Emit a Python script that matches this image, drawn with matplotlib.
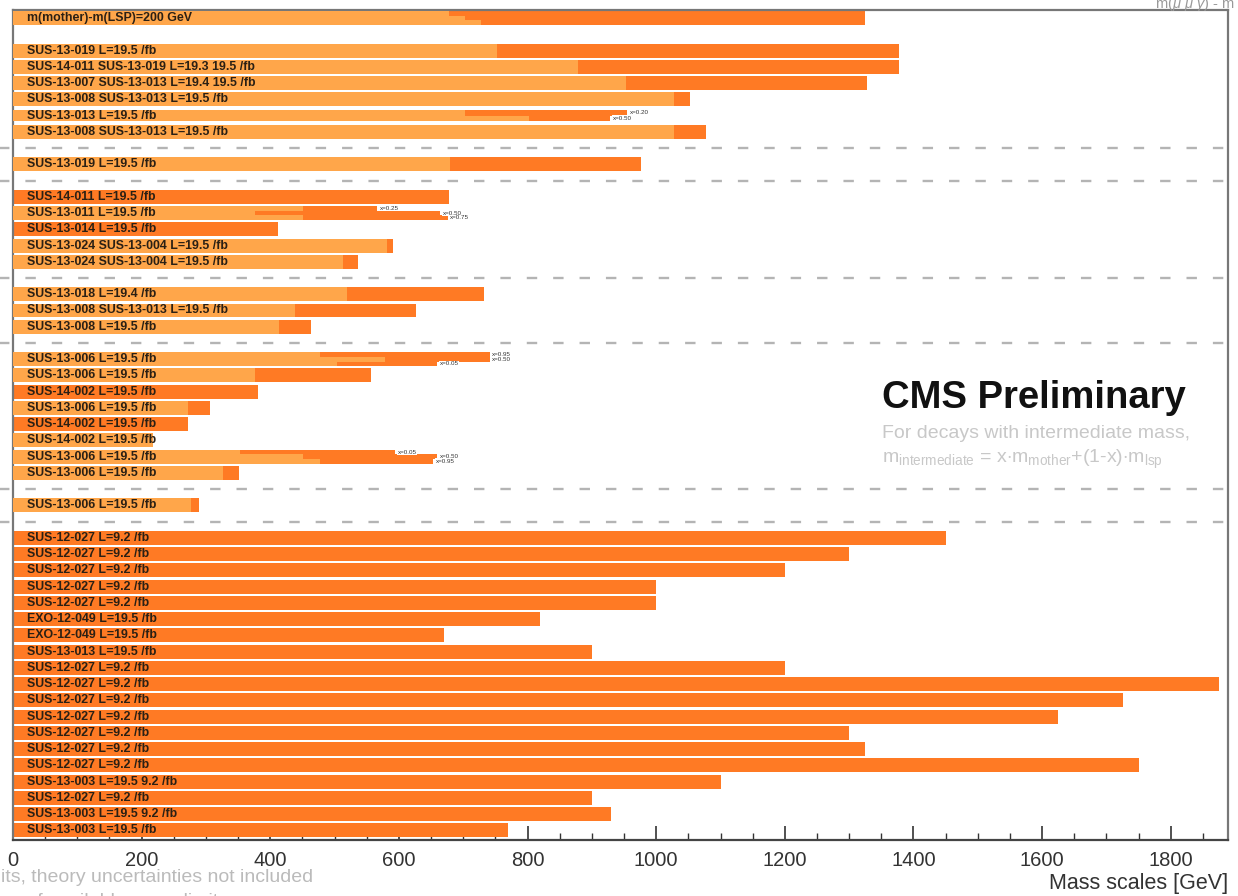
import matplotlib.pyplot as plt
from matplotlib.transforms import blended_transform_factory

plt.rcParams['font.family'] = ['Liberation Sans', 'DejaVu Sans']
plt.rcParams['mathtext.fontset'] = 'custom'
plt.rcParams['mathtext.rm'] = 'Liberation Sans'
plt.rcParams['mathtext.it'] = 'Liberation Sans:italic'
plt.rcParams['lines.scale_dashes'] = False

DARK = '#ff7a24'
LIGHT = '#ffa64a'
TXT = '#2b2014'

# simple rows: one limit for the mother (dark) and one for the LSP (light)
row_pos = [2, 3, 4, 5, 7, 9, 11, 13, 14, 15, 17, 18, 19, 22, 23, 24, 25, 26, 28, 30,
           32, 33, 34, 35, 36, 37, 38, 39, 40, 41, 42, 43, 44, 45, 46, 47, 48, 49, 50]
row_labels = [
    "SUS-13-019 L=19.5 /fb",
    "SUS-14-011 SUS-13-019 L=19.3 19.5 /fb",
    "SUS-13-007 SUS-13-013 L=19.4 19.5 /fb",
    "SUS-13-008 SUS-13-013 L=19.5 /fb",
    "SUS-13-008 SUS-13-013 L=19.5 /fb",
    "SUS-13-019 L=19.5 /fb",
    "SUS-14-011 L=19.5 /fb",
    "SUS-13-014 L=19.5 /fb",
    "SUS-13-024 SUS-13-004 L=19.5 /fb",
    "SUS-13-024 SUS-13-004 L=19.5 /fb",
    "SUS-13-018 L=19.4 /fb",
    "SUS-13-008 SUS-13-013 L=19.5 /fb",
    "SUS-13-008 L=19.5 /fb",
    "SUS-13-006 L=19.5 /fb",
    "SUS-14-002 L=19.5 /fb",
    "SUS-13-006 L=19.5 /fb",
    "SUS-14-002 L=19.5 /fb",
    "SUS-14-002 L=19.5 /fb",
    "SUS-13-006 L=19.5 /fb",
    "SUS-13-006 L=19.5 /fb",
    "SUS-12-027 L=9.2 /fb",
    "SUS-12-027 L=9.2 /fb",
    "SUS-12-027 L=9.2 /fb",
    "SUS-12-027 L=9.2 /fb",
    "SUS-12-027 L=9.2 /fb",
    "EXO-12-049 L=19.5 /fb",
    "EXO-12-049 L=19.5 /fb",
    "SUS-13-013 L=19.5 /fb",
    "SUS-12-027 L=9.2 /fb",
    "SUS-12-027 L=9.2 /fb",
    "SUS-12-027 L=9.2 /fb",
    "SUS-12-027 L=9.2 /fb",
    "SUS-12-027 L=9.2 /fb",
    "SUS-12-027 L=9.2 /fb",
    "SUS-12-027 L=9.2 /fb",
    "SUS-13-003 L=19.5 9.2 /fb",
    "SUS-12-027 L=9.2 /fb",
    "SUS-13-003 L=19.5 9.2 /fb",
    "SUS-13-003 L=19.5 /fb",
]
light_vals = [752, 878, 953, 1027, 1027, 679, 0, 0, 581, 513, 520, 438, 414, 376, 0, 272, 0, 218, 326, 277,
              0, 0, 0, 0, 0, 0, 0, 0, 0, 0, 0, 0, 0, 0, 0, 0, 0, 0, 0]
dark_vals = [1378, 1377, 1328, 1052, 1077, 976, 678, 412, 591, 536, 732, 626, 463, 556, 381, 306, 272, 0, 351, 289,
             1450, 1300, 1200, 1000, 1000, 820, 670, 900, 1200, 1875, 1725, 1625, 1300, 1325, 1750, 1100, 900, 930, 770]

# rows split by intermediate mass hypothesis
split_pos = [0, 6, 12, 21, 27]
split_labels = [
    "m(mother)-m(LSP)=200 GeV",
    "SUS-13-013 L=19.5 /fb",
    "SUS-13-011 L=19.5 /fb",
    "SUS-13-006 L=19.5 /fb",
    "SUS-13-006 L=19.5 /fb",
]
split_light = [(678, 702, 727), (702, 803), (451, 376, 451), (477, 578, 503), (353, 451, 477)]
split_dark = [(1324, 1324, 1324), (955, 928), (566, 664, 676), (741, 741, 659), (594, 659, 653)]
split_tags = [(None, None, None), ("x=0.20", "x=0.50"), ("x=0.25", "x=0.50", "x=0.75"),
              ("x=0.95", "x=0.50", "x=0.05"), ("x=0.05", "x=0.50", "x=0.95")]

dashed_pos = [8, 10, 16, 20, 29, 31]
xticks = [0, 200, 400, 600, 800, 1000, 1200, 1400, 1600, 1800]

fig = plt.figure(figsize=(12.38, 8.96), dpi=100)
ax = fig.add_axes([13 / 1238, 56 / 896, 1215 / 1238, 830 / 896])
ax.set_axisbelow(True)
tr = blended_transform_factory(ax.transAxes, ax.transData)

h = 0.86
ax.barh(row_pos, dark_vals, height=h, color=DARK, zorder=2)
ax.barh(row_pos, light_vals, height=h, color=LIGHT, zorder=3)
for y, lab in zip(row_pos, row_labels):
    ax.text(0.0115, y, lab, transform=tr, fontsize=8.9, fontweight='bold', color=TXT,
            va='center', ha='left', zorder=5)

for y, lab, lts, dks, tags in zip(split_pos, split_labels, split_light, split_dark, split_tags):
    n = len(lts)
    sh = h / n if n == 3 else 0.33
    top = y - sh * n / 2
    for i, (lt, dk, tag) in enumerate(zip(lts, dks, tags)):
        yc = top + sh * (i + 0.5)
        ax.barh(yc, dk, height=sh, color=DARK, zorder=2)
        ax.barh(yc, lt, height=sh, color=LIGHT, zorder=3)
        if tag:
            ax.text(dk + 4, yc, tag, fontsize=4.5, color='#333333', va='center', ha='left', zorder=6,
                    bbox=dict(facecolor='white', edgecolor='none', pad=0.4))
    ax.text(0.0115, y, lab, transform=tr, fontsize=8.9, fontweight='bold', color=TXT,
            va='center', ha='left', zorder=5)

for y in dashed_pos:
    ax.axhline(y, xmin=-0.012, xmax=1.0, color='#b4b4b4', lw=1.7, dashes=(7.5, 11.5),
               clip_on=False, zorder=1)

ax.set_xlim(0, 1889)
ax.set_ylim(50.6, -0.5)
ax.set_yticks([])
ax.set_xticks(xticks)
ax.set_xticks(range(0, 1889, 50), minor=True)
ax.tick_params(axis='x', which='major', direction='in', length=10, width=1.2, color='#333333',
               labelsize=14.5, labelcolor='#333333', pad=8)
ax.tick_params(axis='x', which='minor', direction='in', length=5, width=1.0, color='#333333')
for s in ax.spines.values():
    s.set_color('#777777')
    s.set_linewidth(1.6)
ax.spines['bottom'].set_color('#444444')

ax.text(1.0, -0.052, "Mass scales [GeV]", transform=ax.transAxes, ha='right', va='center',
        fontsize=15.5, color='#333333')

fig.text(313 / 1238, 1 - 877 / 896, "*Observed limits, theory uncertainties not included",
         ha='right', va='center', fontsize=14, color='#bbbbbb')
fig.text(228 / 1238, 1 - 901 / 896, "Only a selection of available mass limits",
         ha='right', va='center', fontsize=14, color='#bbbbbb')
fig.text(1155 / 1238, 1 - 5 / 896, r"m($\tilde{\mu}$ $\tilde{\mu}$ $\tilde{\gamma}$) - m",
         ha='left', va='center', fontsize=10.5, color='#999999')

fig.text(882 / 1238, 1 - 398 / 896, "CMS Preliminary", fontsize=27.5, fontweight='bold',
         ha='left', va='center', color='#111111')
fig.text(882 / 1238, 1 - 433 / 896, "For decays with intermediate mass,", fontsize=14,
         ha='left', va='center', color='#c8c8c8')
fig.text(882 / 1238, 1 - 459 / 896,
         r"m$_{\rm intermediate}$ = x$\cdot$m$_{\rm mother}$+(1-x)$\cdot$m$_{\rm lsp}$",
         fontsize=14, ha='left', va='center', color='#c8c8c8')

fig.savefig("out.png", dpi=100)
